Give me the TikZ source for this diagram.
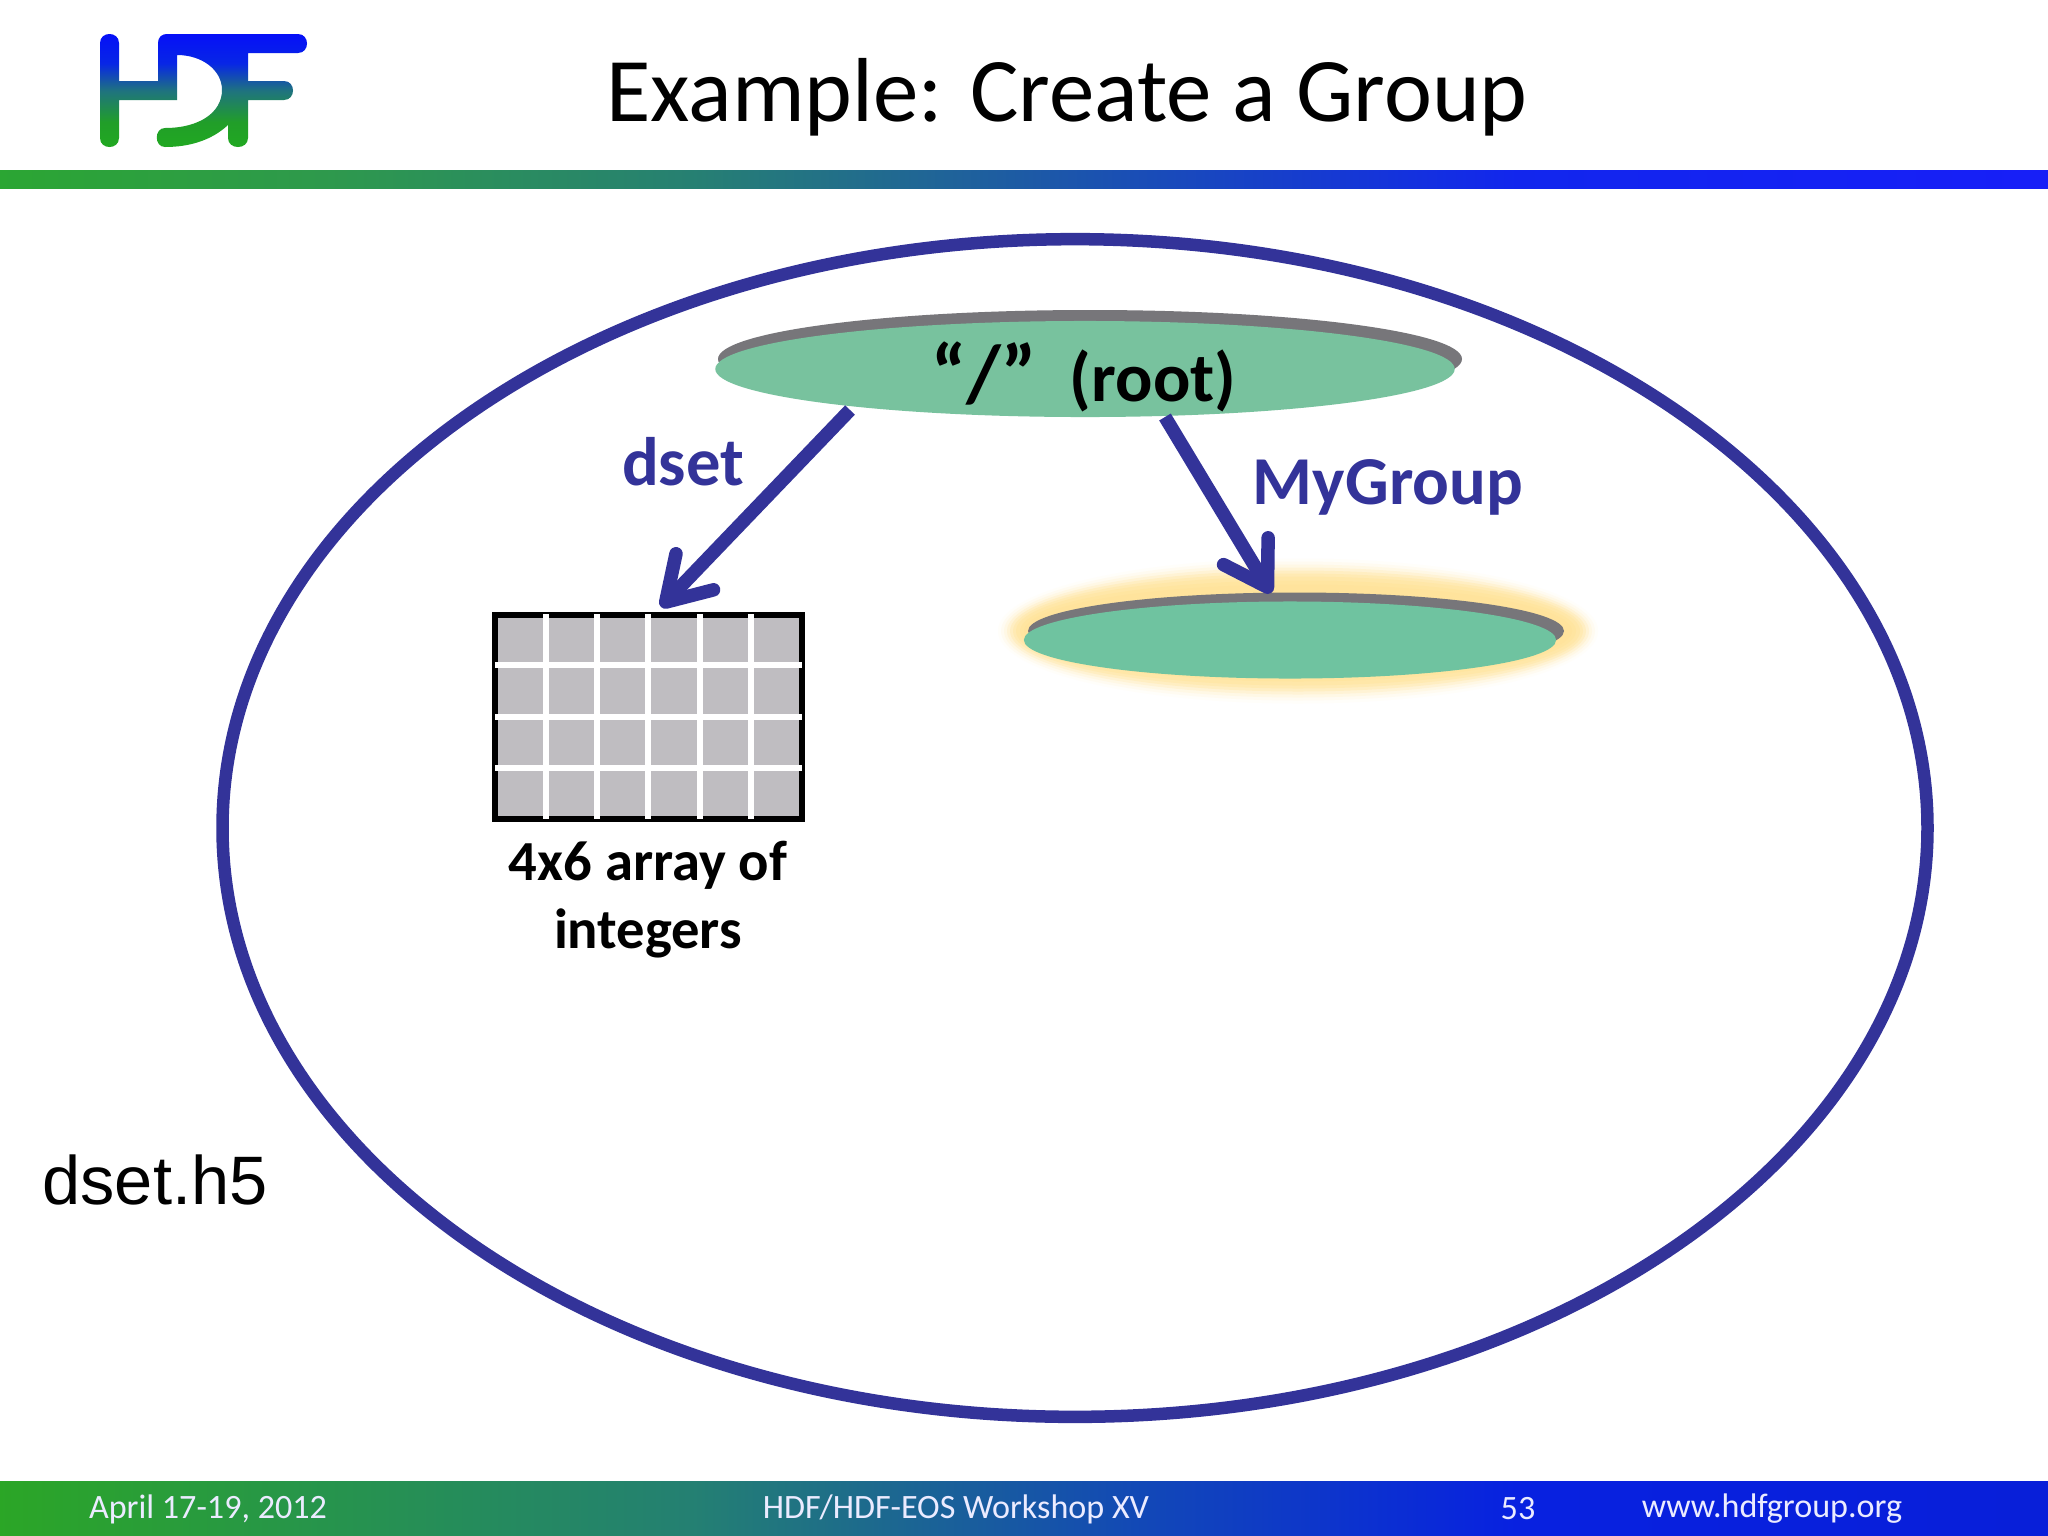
\documentclass[tikz,border=0pt]{standalone}
\usepackage{fontspec}
\setmainfont{Carlito}
\newfontfamily\arialf{Liberation Sans}
\usetikzlibrary{arrows.meta,shapes.geometric}
\definecolor{navy}{HTML}{333399}
\definecolor{disc}{HTML}{78C29E}
\definecolor{discb}{HTML}{6FC3A0}
\definecolor{rim}{HTML}{77767A}
\definecolor{cellg}{HTML}{BFBDC1}
\definecolor{glow}{HTML}{FFE39A}
\pgfdeclarehorizontalshading{barshade}{100bp}{
  rgb(0bp)=(0.17,0.65,0.20);
  rgb(25bp)=(0.17,0.65,0.20);
  rgb(33bp)=(0.18,0.60,0.30);
  rgb(42bp)=(0.15,0.50,0.45);
  rgb(53bp)=(0.10,0.30,0.72);
  rgb(62bp)=(0.07,0.15,0.93);
  rgb(75bp)=(0.09,0.12,0.97);
  rgb(100bp)=(0.09,0.12,0.97)}
\pgfdeclarehorizontalshading{footshade}{100bp}{
  rgb(0bp)=(0.17,0.65,0.15);
  rgb(25bp)=(0.17,0.65,0.15);
  rgb(33bp)=(0.15,0.58,0.30);
  rgb(42bp)=(0.14,0.50,0.45);
  rgb(53bp)=(0.07,0.28,0.72);
  rgb(62bp)=(0.03,0.13,0.88);
  rgb(75bp)=(0.03,0.12,0.85);
  rgb(100bp)=(0.03,0.12,0.85)}
\pgfdeclareverticalshading{logoshade}{100bp}{
  rgb(0bp)=(0.13,0.66,0.13);
  rgb(25bp)=(0.13,0.66,0.13);
  rgb(36bp)=(0.13,0.62,0.16);
  rgb(50bp)=(0.12,0.45,0.50);
  rgb(62bp)=(0.03,0.15,0.90);
  rgb(75bp)=(0.02,0.06,0.97);
  rgb(100bp)=(0.02,0.06,0.97)}
\tikzset{
  x=0.01cm,y=-0.01cm,
  title/.style={font=\fontsize{25.85}{30}\selectfont,anchor=center,inner sep=0},
  boldblue/.style={font=\fontsize{19.5}{23}\selectfont\bfseries,text=navy,inner sep=0},
  boldblack/.style={font=\fontsize{16.1}{19.3}\selectfont\bfseries,align=center,inner sep=0},
  foot/.style={font=\fontsize{9.7}{12}\selectfont,text=white!92!blue,inner sep=0},
  link/.style={draw=navy,line width=0.135cm,-{Straight Barb[length=0.42cm,width=0.52cm,round]}},
  gridline/.style={draw=white,line width=0.065cm}
}
\begin{document}
\begin{tikzpicture}
\useasboundingbox (0,0) rectangle (2048,1536);
\fill[white] (0,0) rectangle (2048,1536);
% logo
\begin{scope}
\clip (100,43) .. controls (100,31) and (119,31) .. (119,43) -- (119,81) -- (158,81) -- (158,100) -- (119,100) -- (119,138) .. controls (119,150) and (100,150) .. (100,138) -- cycle
 (167,34) -- (298,34) .. controls (310,34) and (310,53) .. (298,53) -- (248,53) -- (248,81) -- (284,81) .. controls (296,81) and (296,100) .. (284,100) -- (248,100) -- (248,138) .. controls (248,150) and (228,150) .. (228,138) -- (228,125) .. controls (212,140) and (190,147) .. (165,147) .. controls (154,147) and (154,128) .. (165,128) .. controls (200,128) and (222,112) .. (222,90) .. controls (222,70) and (202,55) .. (177,55) -- (177,100) -- (158,100) -- (158,43) .. controls (158,37) and (162,34) .. (167,34) -- cycle;
 \shade[shading=logoshade] (90,34) rectangle (320,147);
\end{scope}
% bars
\shade[shading=barshade] (0,170) rectangle (2048,188);
\shade[shading=footshade] (0,1481) rectangle (2048,1536);
\node[title] (ttl) at (1067,97) {Example: Create a Group};
% file ellipse
\node[draw=navy,line width=0.125cm,ellipse,minimum width=17.04cm,minimum height=11.77cm,inner sep=0,outer sep=0] (file) at (1075,828) {};
% root
\fill[rim] (1090,359) ellipse [x radius=372,y radius=49];
\node[ellipse,fill=disc,minimum width=7.39cm,minimum height=0.96cm,inner sep=0,outer sep=0] (root) at (1085,369) {};
\node[font=\fontsize{19.8}{24}\selectfont\bfseries,inner sep=0] (rootlabel) at (1084,377) {{\fontsize{23}{24}\selectfont “/”}\hspace{0.33cm}(root)};
% glow
\foreach \o/\c in {34/5,31/14,28/26,25/42,22/60,19/75,16/86,12/94,8/98,0/100}{
  \fill[glow!\c!white] (1298,631) ellipse [x radius={266+\o},y radius={38.5+\o}];
}
\fill[rim] (1296,631) ellipse [x radius=268,y radius=38.5];
\node[ellipse,fill=discb,minimum width=5.32cm,minimum height=0.77cm,inner sep=0,outer sep=0] (group) at (1290,640) {};
% grid
\node[draw=black,fill=cellg,line width=0.065cm,minimum width=3.07cm,minimum height=2.04cm,inner sep=0,outer sep=0] (grid) at (648.5,717) {};
\foreach \gx in {546,597,648,700,751}{\draw[gridline] (\gx,614) -- (\gx,819);}
\foreach \gy in {665,717,768}{\draw[gridline] (495,\gy) -- (802,\gy);}
\node[boldblack] (gridlabel) at (648,900) {4x6 array of\\integers};
% arrows
\coordinate (rootA) at (850,410);
\coordinate (rootB) at (1165,417);
\coordinate (tipA) at (661,607);
\coordinate (tipB) at (1271,593);
\draw[link] (rootA) -- (tipA);
\draw[link] (rootB) -- (tipB);
\node[boldblue] (dsetlabel) at (683,462) {dset};
\node[boldblue] (grouplabel) at (1388,487) {MyGroup};
\node[font=\arialf\fontsize{19.5}{24}\selectfont,inner sep=0] (fname) at (155,1180) {dset.h5};
% footer
\node[foot] (f1) at (208,1509) {April 17-19, 2012};
\node[foot] (f2) at (956,1509) {HDF/HDF-EOS Workshop XV};
\node[foot] (f3) at (1518,1509) {53};
\node[foot] (f4) at (1772,1509) {www.hdfgroup.org};
\end{tikzpicture}
\end{document}
